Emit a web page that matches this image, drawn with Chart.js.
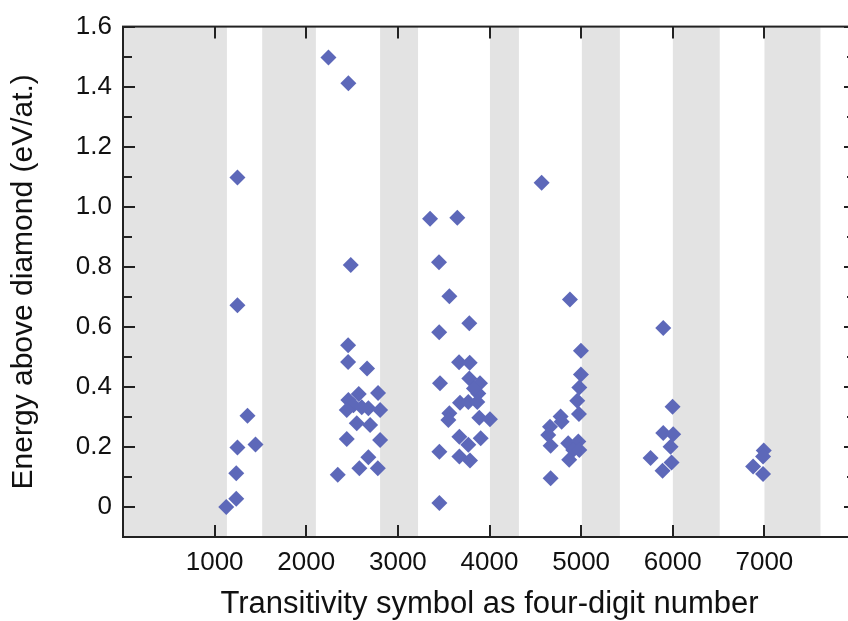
<!DOCTYPE html>
<html>
<head>
<meta charset="utf-8">
<script src="https://cdn.jsdelivr.net/npm/chart.js@4"></script>
<style>
  body { margin: 0; overflow: hidden; background: #fff; }
</style>
</head>
<body>
<canvas id="energyChart" width="870" height="621"></canvas>
<script>
// transitivity symbol (x) and energy above diamond in eV/atom (y)
const symbols = [
    1127, 1236, 1236, 1249, 1446, 1359, 1249, 1249,
    2242, 2460, 2486, 2457, 2457, 2664, 2784, 2573, 2460, 2515, 2442, 2678,
    2806, 2551, 2697, 2442, 2806, 2678, 2580, 2781, 2344, 2606,
    3351, 3649, 3449, 3562, 3780, 3451, 3668, 3784, 3460, 3780, 3896, 3878,
    3678, 3769, 3867, 3562, 3551, 3889, 4005, 3671, 3769, 3904, 3453, 3671,
    3787, 3453, 3830,
    4569, 4878, 4998, 4998, 4980, 4958, 4976, 4776, 4787, 4660, 4641, 4667,
    4859, 4969, 4914, 4980, 4870, 4667,
    5896, 5998, 5896, 6005, 5976, 5758, 5987, 5889,
    6993, 6986, 6877, 6986
];
const energies = [
    0.000, 0.027, 0.112, 0.198, 0.208, 0.304, 0.672, 1.097,
    1.497, 1.411, 0.806, 0.539, 0.483, 0.461, 0.380, 0.376, 0.356, 0.339, 0.323, 0.329,
    0.323, 0.279, 0.273, 0.226, 0.223, 0.166, 0.129, 0.129, 0.107, 0.332,
    0.960, 0.963, 0.815, 0.702, 0.612, 0.582, 0.482, 0.480, 0.412, 0.428, 0.412, 0.378,
    0.347, 0.350, 0.350, 0.312, 0.290, 0.297, 0.292, 0.234, 0.207, 0.229, 0.184, 0.168,
    0.155, 0.013, 0.395,
    1.080, 0.691, 0.520, 0.441, 0.398, 0.354, 0.310, 0.301, 0.284, 0.267, 0.240, 0.204,
    0.212, 0.218, 0.190, 0.190, 0.157, 0.096,
    0.596, 0.334, 0.246, 0.242, 0.201, 0.163, 0.148, 0.121,
    0.188, 0.168, 0.135, 0.110
];

// shaded ranges along the x axis
const bandStart = [0, 1519, 2806, 4005, 5008, 6001, 7001];
const bandEnd = [1134, 2105, 3220, 4321, 5423, 6513, 7612];

const xTicks = [1000, 2000, 3000, 4000, 5000, 6000, 7000];
const yTicks = [0, 0.2, 0.4, 0.6, 0.8, 1.0, 1.2, 1.4, 1.6];

const points = symbols.map((s, i) => ({ x: s, y: energies[i] }));

const bandsAndFrame = {
    id: 'bandsAndFrame',
    beforeDatasetsDraw(chart) {
        const { ctx, chartArea: a, scales: { x } } = chart;
        ctx.save();
        ctx.fillStyle = '#e3e3e3';
        bandStart.forEach((s, i) => {
            const x0 = x.getPixelForValue(s);
            const x1 = x.getPixelForValue(bandEnd[i]);
            ctx.fillRect(x0, a.top, x1 - x0, a.bottom - a.top);
        });
        ctx.restore();
    },
    afterDatasetsDraw(chart) {
        const { ctx, chartArea: a, scales: { x, y } } = chart;
        ctx.save();
        ctx.strokeStyle = '#222';
        ctx.lineWidth = 2;
        ctx.strokeRect(a.left, a.top, a.right - a.left, a.bottom - a.top);
        ctx.beginPath();
        xTicks.forEach(v => {
            const px = Math.round(x.getPixelForValue(v));
            ctx.moveTo(px, a.bottom); ctx.lineTo(px, a.bottom - 12);
            ctx.moveTo(px, a.top); ctx.lineTo(px, a.top + 12);
        });
        yTicks.forEach(v => {
            const py = Math.round(y.getPixelForValue(v));
            ctx.moveTo(a.left, py); ctx.lineTo(a.left + 12, py);
            ctx.moveTo(a.right, py); ctx.lineTo(a.right - 12, py);
            if (v < 1.6) {
                const pm = Math.round(y.getPixelForValue(v + 0.1));
                ctx.moveTo(a.left, pm); ctx.lineTo(a.left + 9, pm);
                ctx.moveTo(a.right, pm); ctx.lineTo(a.right - 9, pm);
            }
        });
        ctx.stroke();
        ctx.restore();
    }
};

const ctx = document.getElementById('energyChart').getContext('2d');
const energyChart = new Chart(ctx, {
    type: 'scatter',
    data: {
        datasets: [{
            data: points,
            pointStyle: 'rectRot',
            pointRadius: 8,
            pointHoverRadius: 8,
            backgroundColor: '#5d68b9',
            borderWidth: 0
        }]
    },
    options: {
        responsive: false,
        animation: false,
        layout: { padding: { top: 25, right: 14, left: 0, bottom: 0 } },
        plugins: { legend: { display: false }, tooltip: { enabled: false } },
        scales: {
            x: {
                type: 'linear',
                min: 0,
                max: 8000,
                afterBuildTicks: s => { s.ticks = xTicks.map(v => ({ value: v })); },
                afterFit: s => { s.height = 84; },
                grid: { display: false, drawTicks: false },
                border: { display: false },
                ticks: {
                    padding: 10,
                    color: '#111',
                    font: { family: 'Liberation Sans', size: 26 },
                    callback: v => String(v)
                },
                title: {
                    display: true,
                    text: 'Transitivity symbol as four-digit number',
                    color: '#111',
                    font: { family: 'Liberation Sans', size: 31 },
                    padding: { top: 0, bottom: -2 }
                }
            },
            y: {
                min: -0.1,
                max: 1.6,
                afterBuildTicks: s => { s.ticks = yTicks.map(v => ({ value: v })); },
                afterFit: s => { s.width = 123; },
                grid: { display: false, drawTicks: false },
                border: { display: false },
                ticks: {
                    padding: 11,
                    color: '#111',
                    font: { family: 'Liberation Sans', size: 26 },
                    callback: v => v === 0 ? '0' : v.toFixed(1)
                },
                title: {
                    display: true,
                    text: 'Energy above diamond (eV/at.)',
                    color: '#111',
                    font: { family: 'Liberation Sans', size: 30 },
                    padding: { top: 6, bottom: 0 }
                }
            }
        }
    },
    plugins: [bandsAndFrame]
});
</script>
</body>
</html>
